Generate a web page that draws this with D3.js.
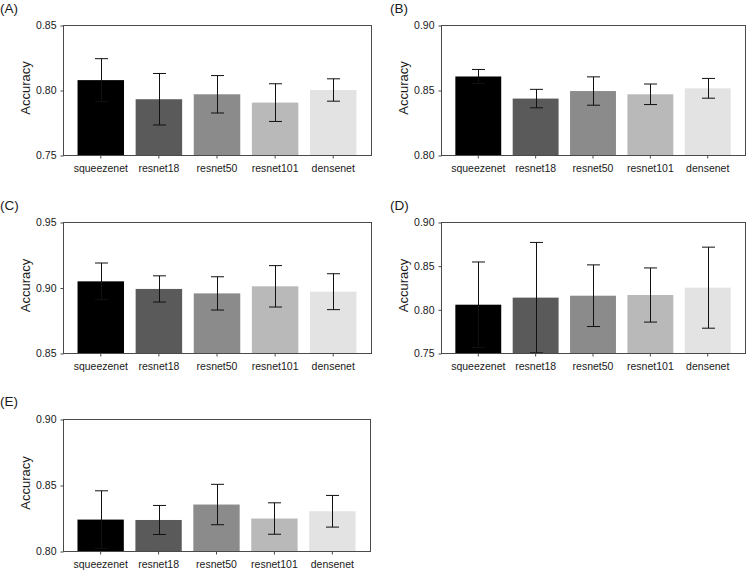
<!DOCTYPE html>
<html>
<head>
<meta charset="utf-8">
<script src="https://cdn.jsdelivr.net/npm/d3@7"></script>
<style>
  body { margin: 0; background: #fff; }
  svg { display: block; font-family: "Liberation Sans", Arial, sans-serif; }
</style>
</head>
<body>
<div id="chart"></div>
<script>
// models on the x axis
const categories = ['squeezenet', 'resnet18', 'resnet50', 'resnet101', 'densenet'];

// mean accuracy per panel
const meanA = [0.8076, 0.7929, 0.7967, 0.7903, 0.8000];
const meanB = [0.8604, 0.8434, 0.8492, 0.8467, 0.8513];
const meanC = [0.9047, 0.8989, 0.8955, 0.9009, 0.8968];
const meanD = [0.8053, 0.8134, 0.8156, 0.8164, 0.8248];
const meanE = [0.8238, 0.8235, 0.8352, 0.8246, 0.8301];

// error bar half-lengths
const errA = [0.0165, 0.0198, 0.0144, 0.0145, 0.0086];
const errB = [0.0054, 0.0071, 0.0109, 0.0079, 0.0076];
const errC = [0.0140, 0.0100, 0.0127, 0.0158, 0.0137];
const errD = [0.0489, 0.0632, 0.0353, 0.0310, 0.0464];
const errE = [0.0218, 0.0110, 0.0153, 0.0119, 0.0120];

// y ticks
const ticksA = [0.75, 0.80, 0.85];
const ticksB = [0.80, 0.85, 0.90];
const ticksC = [0.85, 0.90, 0.95];
const ticksD = [0.75, 0.80, 0.85, 0.90];
const ticksE = [0.80, 0.85, 0.90];

const barColors = ['#000000', '#5a5a5a', '#8b8b8b', '#b9b9b9', '#e3e3e3'];

const width = 749;
const height = 571;

const svg = d3.select('#chart').append('svg')
  .attr('width', width)
  .attr('height', height);

// panel frames (left, right, top, bottom)
const panels = [
  { label: '(A)', mean: meanA, err: errA, ticks: ticksA, box: [63, 371, 25, 155], lx: 0, ly: 13 },
  { label: '(B)', mean: meanB, err: errB, ticks: ticksB, box: [441, 745, 25, 155], lx: 390, ly: 13 },
  { label: '(C)', mean: meanC, err: errC, ticks: ticksC, box: [63, 371, 222, 353], lx: 0, ly: 210 },
  { label: '(D)', mean: meanD, err: errD, ticks: ticksD, box: [441, 745, 222, 353], lx: 390, ly: 210 },
  { label: '(E)', mean: meanE, err: errE, ticks: ticksE, box: [63, 370, 419, 551], lx: 0, ly: 406 },
];

panels.forEach(p => {
  const [left, right, top, bottom] = p.box;
  const data = categories.map((c, i) => ({ label: c, value: p.mean[i], err: p.err[i], color: barColors[i] }));

  const x = d3.scaleBand().domain(categories).range([left, right])
    .paddingInner(0.2).paddingOuter(0.25);
  const y = d3.scaleLinear().domain(d3.extent(p.ticks)).range([bottom, top]);

  const g = svg.append('g');

  // bars
  g.selectAll('rect.bar').data(data).enter()
    .append('rect')
    .attr('class', 'bar')
    .attr('x', d => x(d.label))
    .attr('y', d => y(d.value))
    .attr('width', x.bandwidth())
    .attr('height', d => bottom - y(d.value))
    .attr('fill', d => d.color);

  // error bars
  const eb = g.selectAll('g.err').data(data).enter()
    .append('g')
    .attr('class', 'err')
    .attr('stroke', '#111')
    .attr('stroke-width', 1);
  const cx = d => Math.round(x(d.label) + x.bandwidth() / 2) + 0.5;
  eb.append('line')
    .attr('x1', cx).attr('x2', cx)
    .attr('y1', d => y(d.value + d.err)).attr('y2', d => y(d.value - d.err));
  eb.append('line')
    .attr('x1', d => cx(d) - 6.5).attr('x2', d => cx(d) + 6.5)
    .attr('y1', d => y(d.value + d.err)).attr('y2', d => y(d.value + d.err));
  eb.append('line')
    .attr('x1', d => cx(d) - 6.5).attr('x2', d => cx(d) + 6.5)
    .attr('y1', d => y(d.value - d.err)).attr('y2', d => y(d.value - d.err));

  // frame
  g.append('rect')
    .attr('x', left + 0.5).attr('y', top + 0.5)
    .attr('width', right - left).attr('height', bottom - top)
    .attr('fill', 'none')
    .attr('stroke', '#4a4a4a');

  // axes
  const yAxis = g.append('g')
    .attr('transform', `translate(${left + 0.5},0.5)`)
    .call(d3.axisLeft(y).tickValues(p.ticks).tickFormat(d3.format('.2f')).tickSize(3).tickPadding(4));
  const xAxis = g.append('g')
    .attr('transform', `translate(0,${bottom + 0.5})`)
    .call(d3.axisBottom(x).tickSize(3).tickPadding(6));

  [xAxis, yAxis].forEach(a => {
    a.select('.domain').remove();
    a.selectAll('line').attr('stroke', '#4a4a4a');
    a.selectAll('text')
      .style('font-size', '10.5px')
      .attr('fill', '#1a1a1a');
  });

  // y label
  g.append('text')
    .attr('transform', `translate(${left - 33},${(top + bottom) / 2 - 2}) rotate(-90)`)
    .attr('text-anchor', 'middle')
    .style('font-size', '13px')
    .attr('fill', '#1a1a1a')
    .text('Accuracy');

  // panel letter
  g.append('text')
    .attr('x', p.lx).attr('y', p.ly)
    .style('font-size', '13.5px')
    .attr('fill', '#1a1a1a')
    .text(p.label);
});
</script>
</body>
</html>
